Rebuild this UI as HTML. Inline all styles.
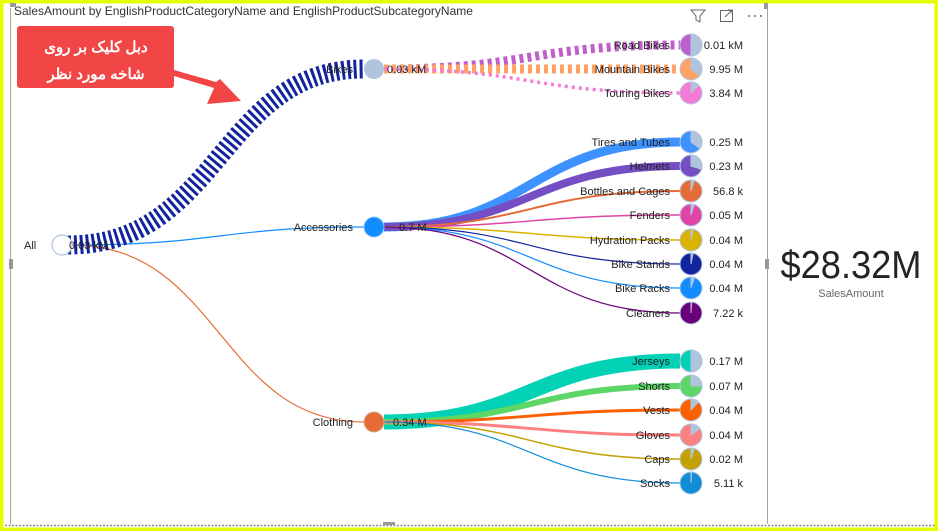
<!DOCTYPE html>
<html><head><meta charset="utf-8"><style>
html,body{margin:0;padding:0;background:#fff;}
svg{display:block;}
text{font-family:"Liberation Sans",Arial,sans-serif;}
</style></head><body>
<svg width="938" height="531" viewBox="0 0 938 531" xmlns="http://www.w3.org/2000/svg">
<rect x="0" y="0" width="938" height="531" fill="#fff"/>
<!-- yellow frame -->
<rect x="1.5" y="1.5" width="935" height="528" fill="none" stroke="#E6FF00" stroke-width="4"/>
<!-- panel borders -->
<line x1="10.5" y1="8" x2="10.5" y2="524" stroke="#a6a6a6" stroke-width="1"/>
<line x1="767.5" y1="4" x2="767.5" y2="524" stroke="#a6a6a6" stroke-width="1"/>
<line x1="5" y1="525.5" x2="935" y2="525.5" stroke="#888" stroke-width="1.5" stroke-dasharray="2 1.5"/>
<rect x="9" y="259" width="4" height="10" fill="#999"/>
<rect x="765" y="259" width="4" height="10" fill="#999"/>
<rect x="383" y="522" width="12" height="3" fill="#999"/>
<rect x="764" y="3" width="4" height="6" fill="#999"/>
<rect x="10" y="3" width="6" height="4" fill="#999"/>

<text x="14" y="15" font-size="12" fill="#333">SalesAmount by EnglishProductCategoryName and EnglishProductSubcategoryName</text>

<!-- top-right icons -->
<path d="M691,10 L705,10 L700,16 L700,22 L696,20 L696,16 Z" fill="none" stroke="#666" stroke-width="1"/>
<rect x="720.5" y="10.5" width="12" height="11" fill="none" stroke="#666"/>
<path d="M725,17 L732,10 M728,10 L732,10 L732,14" fill="none" stroke="#666"/>
<circle cx="749" cy="16" r="1" fill="#666"/><circle cx="755" cy="16" r="1" fill="#666"/><circle cx="761" cy="16" r="1" fill="#666"/>

<!-- root links -->
<path d="M72,245 C220,245 220,227 364,227" fill="none" stroke="#118DFF" stroke-width="1.2"/>
<path d="M72,245 C220,245 220,422 364,422" fill="none" stroke="#E66C37" stroke-width="1.2"/>
<path d="M68,245 C220,245 220,69 364,69" fill="none" stroke="#12239E" stroke-width="19" stroke-dasharray="3 3"/>

<!-- bikes children -->
<path d="M384,69 C530,69 530,45 680,45" fill="none" stroke="#C05FCB" stroke-width="9" stroke-dasharray="4 4"/>
<path d="M384,69 C530,69 530,69 680,69" fill="none" stroke="#FFA264" stroke-width="9" stroke-dasharray="4 4"/>
<path d="M384,69 C530,69 530,93 680,93" fill="none" stroke="#F47AD6" stroke-width="3.5" stroke-dasharray="3 4"/>

<!-- accessories children -->
<g fill="none">
<path d="M384,227 C530,227 530,142 680,142" stroke="#3E92FF" stroke-width="9"/>
<path d="M384,227 C530,227 530,166 680,166" stroke="#744EC2" stroke-width="8"/>
<path d="M384,227 C530,227 530,191 680,191" stroke="#E66C37" stroke-width="2"/>
<path d="M384,227 C530,227 530,215 680,215" stroke="#E044A7" stroke-width="1.5"/>
<path d="M384,227 C530,227 530,240 680,240" stroke="#D9B300" stroke-width="1.5"/>
<path d="M384,227 C530,227 530,264 680,264" stroke="#12239E" stroke-width="1.2"/>
<path d="M384,227 C530,227 530,288 680,288" stroke="#118DFF" stroke-width="1.2"/>
<path d="M384,227 C530,227 530,313 680,313" stroke="#6B007B" stroke-width="1.2"/>
</g>
<!-- clothing children -->
<g fill="none">
<path d="M384,422 C530,422 530,361 680,361" stroke="#01D1B5" stroke-width="15"/>
<path d="M384,422 C530,422 530,386 680,386" stroke="#5BD667" stroke-width="6"/>
<path d="M384,422 C530,422 530,410 680,410" stroke="#FE6000" stroke-width="3"/>
<path d="M384,422 C530,422 530,435 680,435" stroke="#FE8080" stroke-width="3"/>
<path d="M384,422 C530,422 530,459 680,459" stroke="#C4A000" stroke-width="1.5"/>
<path d="M384,422 C530,422 530,483 680,483" stroke="#118DD8" stroke-width="1.2"/>
</g>

<!-- nodes -->
<circle cx="62" cy="245" r="10" fill="#fff" stroke="#B0C4DE" stroke-width="1.2"/>
<circle cx="374" cy="69" r="10" fill="#B0C4DE"/>
<circle cx="374" cy="227" r="10" fill="#118DFF" stroke="#8ec4ff"/>
<circle cx="374" cy="422" r="10" fill="#E66C37" stroke="#d9a88f"/>

<!-- leaf pies -->
<g stroke="#B0C4DE" stroke-width="1">
<circle cx="691" cy="45" r="11" fill="#C05FCB"/><path d="M691,45 L691,34 A11,11 0 0 1 691,56 Z" fill="#B0C4DE"/>
<circle cx="691" cy="69" r="11" fill="#FFA264"/><path d="M691,69 L691,58 A11,11 0 0 1 699.9,75.5 Z" fill="#B0C4DE"/>
<circle cx="691" cy="93" r="11" fill="#F47AD6"/><path d="M691,93 L691,82 A11,11 0 0 1 698.5,85 Z" fill="#B0C4DE"/>
<circle cx="691" cy="142" r="11" fill="#3E92FF"/><path d="M691,142 L691,131 A11,11 0 0 1 699.9,148.5 Z" fill="#B0C4DE"/>
<circle cx="691" cy="166" r="11" fill="#744EC2"/><path d="M691,166 L691,155 A11,11 0 0 1 701.5,169.4 Z" fill="#B0C4DE"/>
<circle cx="691" cy="191" r="11" fill="#E66C37"/><path d="M691,191 L691,180 A11,11 0 0 1 694.4,180.5 Z" fill="#B0C4DE"/>
<circle cx="691" cy="215" r="11" fill="#E044A7"/><path d="M691,215 L691,204 A11,11 0 0 1 694.4,204.5 Z" fill="#B0C4DE"/>
<circle cx="691" cy="240" r="11" fill="#D9B300"/><path d="M691,240 L691,229 A11,11 0 0 1 693.1,229.2 Z" fill="#B0C4DE"/>
<circle cx="691" cy="264" r="11" fill="#12239E"/><path d="M691,264 L691,253 A11,11 0 0 1 693.1,253.2 Z" fill="#B0C4DE"/>
<circle cx="691" cy="288" r="11" fill="#118DFF"/><path d="M691,288 L691,277 A11,11 0 0 1 694.4,277.5 Z" fill="#B0C4DE"/>
<circle cx="691" cy="313" r="11" fill="#6B007B"/><path d="M691,313 L691,302 A11,11 0 0 1 691.7,302 Z" fill="#B0C4DE"/>
<circle cx="691" cy="361" r="11" fill="#01D1B5"/><path d="M691,361 L691,350 A11,11 0 0 1 691,372 Z" fill="#B0C4DE"/>
<circle cx="691" cy="386" r="11" fill="#5BD667"/><path d="M691,386 L691,375 A11,11 0 0 1 702,386 Z" fill="#B0C4DE"/>
<circle cx="691" cy="410" r="11" fill="#FE6000"/><path d="M691,410 L691,399 A11,11 0 0 1 698.5,402 Z" fill="#B0C4DE"/>
<circle cx="691" cy="435" r="11" fill="#FE8080"/><path d="M691,435 L691,424 A11,11 0 0 1 699.9,428.5 Z" fill="#B0C4DE"/>
<circle cx="691" cy="459" r="11" fill="#C4A000"/><path d="M691,459 L691,448 A11,11 0 0 1 694.4,448.5 Z" fill="#B0C4DE"/>
<circle cx="691" cy="483" r="11" fill="#118DD8"/><path d="M691,483 L691,472 A11,11 0 0 1 691.7,472 Z" fill="#B0C4DE"/>
</g>

<!-- labels -->
<g font-size="11" fill="#222">
<text x="24" y="249">All</text>
<text x="69" y="249">0.03 kM</text>
<text x="353" y="73" text-anchor="end">Bikes</text>
<text x="387" y="73">0.03 kM</text>
<text x="353" y="231" text-anchor="end">Accessories</text>
<text x="399" y="231">0.7 M</text>
<text x="353" y="426" text-anchor="end">Clothing</text>
<text x="393" y="426">0.34 M</text>
<g text-anchor="end">
<text x="670" y="49">Road Bikes</text>
<text x="670" y="73">Mountain Bikes</text>
<text x="670" y="97">Touring Bikes</text>
<text x="670" y="146">Tires and Tubes</text>
<text x="670" y="170">Helmets</text>
<text x="670" y="195">Bottles and Cages</text>
<text x="670" y="219">Fenders</text>
<text x="670" y="244">Hydration Packs</text>
<text x="670" y="268">Bike Stands</text>
<text x="670" y="292">Bike Racks</text>
<text x="670" y="317">Cleaners</text>
<text x="670" y="365">Jerseys</text>
<text x="670" y="390">Shorts</text>
<text x="670" y="414">Vests</text>
<text x="670" y="439">Gloves</text>
<text x="670" y="463">Caps</text>
<text x="670" y="487">Socks</text>
<text x="743" y="49">0.01 kM</text>
<text x="743" y="73">9.95 M</text>
<text x="743" y="97">3.84 M</text>
<text x="743" y="146">0.25 M</text>
<text x="743" y="170">0.23 M</text>
<text x="743" y="195">56.8 k</text>
<text x="743" y="219">0.05 M</text>
<text x="743" y="244">0.04 M</text>
<text x="743" y="268">0.04 M</text>
<text x="743" y="292">0.04 M</text>
<text x="743" y="317">7.22 k</text>
<text x="743" y="365">0.17 M</text>
<text x="743" y="390">0.07 M</text>
<text x="743" y="414">0.04 M</text>
<text x="743" y="439">0.04 M</text>
<text x="743" y="463">0.02 M</text>
<text x="743" y="487">5.11 k</text>
</g>
</g>

<!-- callout -->
<rect x="17" y="26" width="157" height="62" rx="3" fill="#F24546"/>
<polygon points="174,76 214,88 207,104 241,101 220,79 216,82 174,70" fill="#F24546"/>
<text x="96" y="52" font-size="15" font-weight="bold" fill="#fff" text-anchor="middle" style='font-family:"Liberation Sans","Noto Sans CJK SC",sans-serif'>دبل کلیک بر روی</text>
<text x="96" y="79" font-size="15" font-weight="bold" fill="#fff" text-anchor="middle" style='font-family:"Liberation Sans","Noto Sans CJK SC",sans-serif'>شاخه مورد نظر</text>

<!-- card -->
<text x="851" y="278" font-size="39" fill="#252423" text-anchor="middle" textLength="141" lengthAdjust="spacingAndGlyphs">$28.32M</text>
<text x="851" y="297" font-size="11" fill="#666" text-anchor="middle">SalesAmount</text>
</svg>
</body></html>
